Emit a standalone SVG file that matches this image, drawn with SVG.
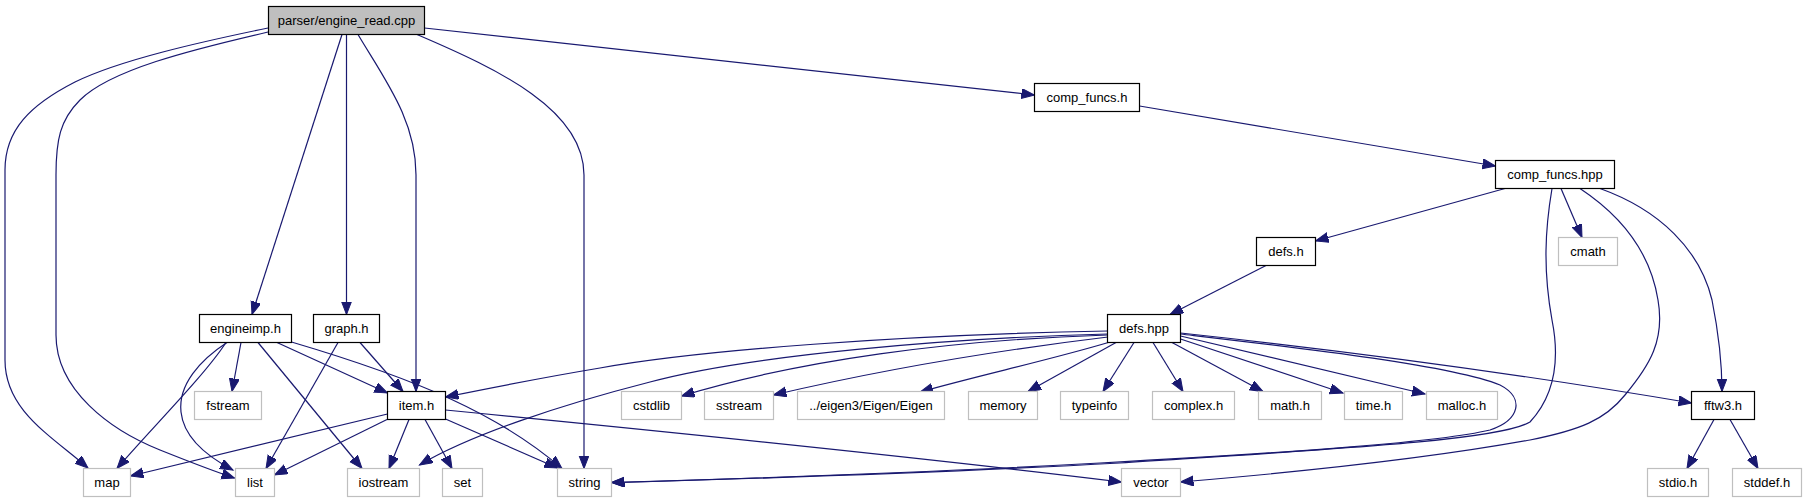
<svg xmlns="http://www.w3.org/2000/svg" width="1807" height="504" viewBox="0 0 1807 504">
<style>
.n rect{fill:#fff;stroke:#000;stroke-width:1.2}
.n.root rect{fill:#bfbfbf}
.n.ext rect{stroke:#bfbfbf}
.n text{font-family:"Liberation Sans",Arial,Helvetica,sans-serif;font-size:13px;fill:#000;text-anchor:middle}
#edges path{fill:none;stroke:#191970;stroke-width:1.2;marker-end:url(#arr)}
</style>
<defs>
<marker id="arr" markerUnits="userSpaceOnUse" markerWidth="15" markerHeight="12" refX="13" refY="5" orient="auto">
<path d="M0,0 L13,5 L0,10 z" fill="#191970" stroke="#191970" stroke-width="1"/>
</marker>
</defs>
<rect width="1807" height="504" fill="#fff"/>
<g id="edges">
<path d="M268,28 C200,42 120,60 75,82 C30,105 5,130 5,170 L5,360 C5,410 50,435 88,468"/>
<path d="M268,32 C190,50 110,70 80,100 C60,120 56,140 56,175 L56,335 C56,390 110,430 160,450 C190,462 210,470 234.5,478"/>
<path d="M342,34.5 L252,314.5"/>
<path d="M346.5,34.5 L346.5,314.5"/>
<path d="M358,34.5 C385,80 416,120 416,175 L416,391.5"/>
<path d="M417,34.5 C500,70 584,110 584,175 L584,468.5"/>
<path d="M424.5,28 L1034.5,95"/>
<path d="M1139.5,106 L1495.5,166"/>
<path d="M1505,188.5 L1315.5,241"/>
<path d="M1561,188.5 L1582,237.5"/>
<path d="M1600,188.5 C1660,210 1700,250 1712,300 C1720,340 1722,370 1722,391.5"/>
<path d="M1552,188.5 C1545,230 1543,270 1552,320 C1560,360 1555,395 1530,422 C1500,440 1350,448 1120,463 C900,475 700,480 611.5,482.5"/>
<path d="M1580,188.5 C1620,215 1650,250 1658,300 C1665,340 1650,365 1625,395 C1605,420 1580,430 1530,440 C1420,460 1300,472 1180.5,482"/>
<path d="M1266,265.5 L1170,314.5"/>
<path d="M1107.5,331 C900,335 700,350 600,368 C540,378 490,388 445.5,397"/>
<path d="M1107.5,334 C950,338 750,355 650,382 C560,405 470,435 419.5,465"/>
<path d="M1107.5,335 C950,340 800,360 681.5,396"/>
<path d="M1108,337 C1000,350 880,370 773.5,395"/>
<path d="M1110,342 C1050,360 980,375 920,392"/>
<path d="M1116,342.5 L1028,391.5"/>
<path d="M1134,342.5 L1103,391.5"/>
<path d="M1153,342.5 L1183,391.5"/>
<path d="M1172,342.5 L1263,391.5"/>
<path d="M1180.5,339 L1343,393"/>
<path d="M1180.5,336 L1425,394"/>
<path d="M1180.5,333 Q1450,362 1691.5,403"/>
<path d="M1180.5,334 C1300,348 1450,365 1500,385 C1525,398 1520,420 1490,430 C1440,442 1300,452 1100,463 C900,474 700,480 611.5,482.5"/>
<path d="M387.5,414 L130.5,476"/>
<path d="M387,419.5 L274.5,475"/>
<path d="M409,419.5 L389,468.5"/>
<path d="M425,419.5 L452,468.5"/>
<path d="M445.5,419 L557.5,468"/>
<path d="M445.5,410 C650,430 900,455 1121.5,482"/>
<path d="M241,342.5 L232,391.5"/>
<path d="M277,342.5 L387.5,393"/>
<path d="M291.5,342 C420,380 500,415 562,468.5"/>
<path d="M258,342.5 L362,468.5"/>
<path d="M226,342.5 C205,375 150,430 117,468.5"/>
<path d="M227,342.5 C200,360 178,385 181,412 C184,440 210,458 233,470"/>
<path d="M360,342.5 L403,391.5"/>
<path d="M338,342.5 L266,468.5"/>
<path d="M1714,419.5 L1687,468.5"/>
<path d="M1730,419.5 L1758,468.5"/>
</g>
<g id="root" class="n root"><rect x="268.5" y="6.5" width="156" height="28"/><text x="346.5" y="25">parser/engine_read.cpp</text></g>
<g id="comp_funcs_h" class="n"><rect x="1034.5" y="83.5" width="105" height="28"/><text x="1087" y="102">comp_funcs.h</text></g>
<g id="comp_funcs_hpp" class="n"><rect x="1495.5" y="160.5" width="119" height="28"/><text x="1555" y="179">comp_funcs.hpp</text></g>
<g id="defs_h" class="n"><rect x="1256.5" y="237.5" width="59" height="28"/><text x="1286" y="256">defs.h</text></g>
<g id="cmath" class="n ext"><rect x="1558.5" y="237.5" width="59" height="28"/><text x="1588" y="256">cmath</text></g>
<g id="engineimp_h" class="n"><rect x="199.5" y="314.5" width="92" height="28"/><text x="245.5" y="333">engineimp.h</text></g>
<g id="graph_h" class="n"><rect x="313.5" y="314.5" width="66" height="28"/><text x="346.5" y="333">graph.h</text></g>
<g id="defs_hpp" class="n"><rect x="1107.5" y="314.5" width="73" height="28"/><text x="1144" y="333">defs.hpp</text></g>
<g id="fstream" class="n ext"><rect x="194.5" y="391.5" width="67" height="28"/><text x="228" y="410">fstream</text></g>
<g id="item_h" class="n"><rect x="387.5" y="391.5" width="58" height="28"/><text x="416.5" y="410">item.h</text></g>
<g id="cstdlib" class="n ext"><rect x="621.5" y="391.5" width="60" height="28"/><text x="651.5" y="410">cstdlib</text></g>
<g id="sstream" class="n ext"><rect x="704.5" y="391.5" width="69" height="28"/><text x="739" y="410">sstream</text></g>
<g id="eigen" class="n ext"><rect x="797.5" y="391.5" width="147" height="28"/><text x="871" y="410">../eigen3/Eigen/Eigen</text></g>
<g id="memory" class="n ext"><rect x="968.5" y="391.5" width="69" height="28"/><text x="1003" y="410">memory</text></g>
<g id="typeinfo" class="n ext"><rect x="1060.5" y="391.5" width="68" height="28"/><text x="1094.5" y="410">typeinfo</text></g>
<g id="complex_h" class="n ext"><rect x="1152.5" y="391.5" width="82" height="28"/><text x="1193.5" y="410">complex.h</text></g>
<g id="math_h" class="n ext"><rect x="1258.5" y="391.5" width="63" height="28"/><text x="1290" y="410">math.h</text></g>
<g id="time_h" class="n ext"><rect x="1344.5" y="391.5" width="58" height="28"/><text x="1373.5" y="410">time.h</text></g>
<g id="malloc_h" class="n ext"><rect x="1426.5" y="391.5" width="71" height="28"/><text x="1462" y="410">malloc.h</text></g>
<g id="fftw3_h" class="n"><rect x="1691.5" y="391.5" width="63" height="28"/><text x="1723" y="410">fftw3.h</text></g>
<g id="map" class="n ext"><rect x="83.5" y="468.5" width="47" height="28"/><text x="107" y="487">map</text></g>
<g id="list" class="n ext"><rect x="235.5" y="468.5" width="39" height="28"/><text x="255" y="487">list</text></g>
<g id="iostream" class="n ext"><rect x="347.5" y="468.5" width="72" height="28"/><text x="383.5" y="487">iostream</text></g>
<g id="set" class="n ext"><rect x="442.5" y="468.5" width="40" height="28"/><text x="462.5" y="487">set</text></g>
<g id="string" class="n ext"><rect x="557.5" y="468.5" width="54" height="28"/><text x="584.5" y="487">string</text></g>
<g id="vector" class="n ext"><rect x="1121.5" y="468.5" width="59" height="28"/><text x="1151" y="487">vector</text></g>
<g id="stdio_h" class="n ext"><rect x="1647.5" y="468.5" width="61" height="28"/><text x="1678" y="487">stdio.h</text></g>
<g id="stddef_h" class="n ext"><rect x="1732.5" y="468.5" width="69" height="28"/><text x="1767" y="487">stddef.h</text></g>
</svg>
